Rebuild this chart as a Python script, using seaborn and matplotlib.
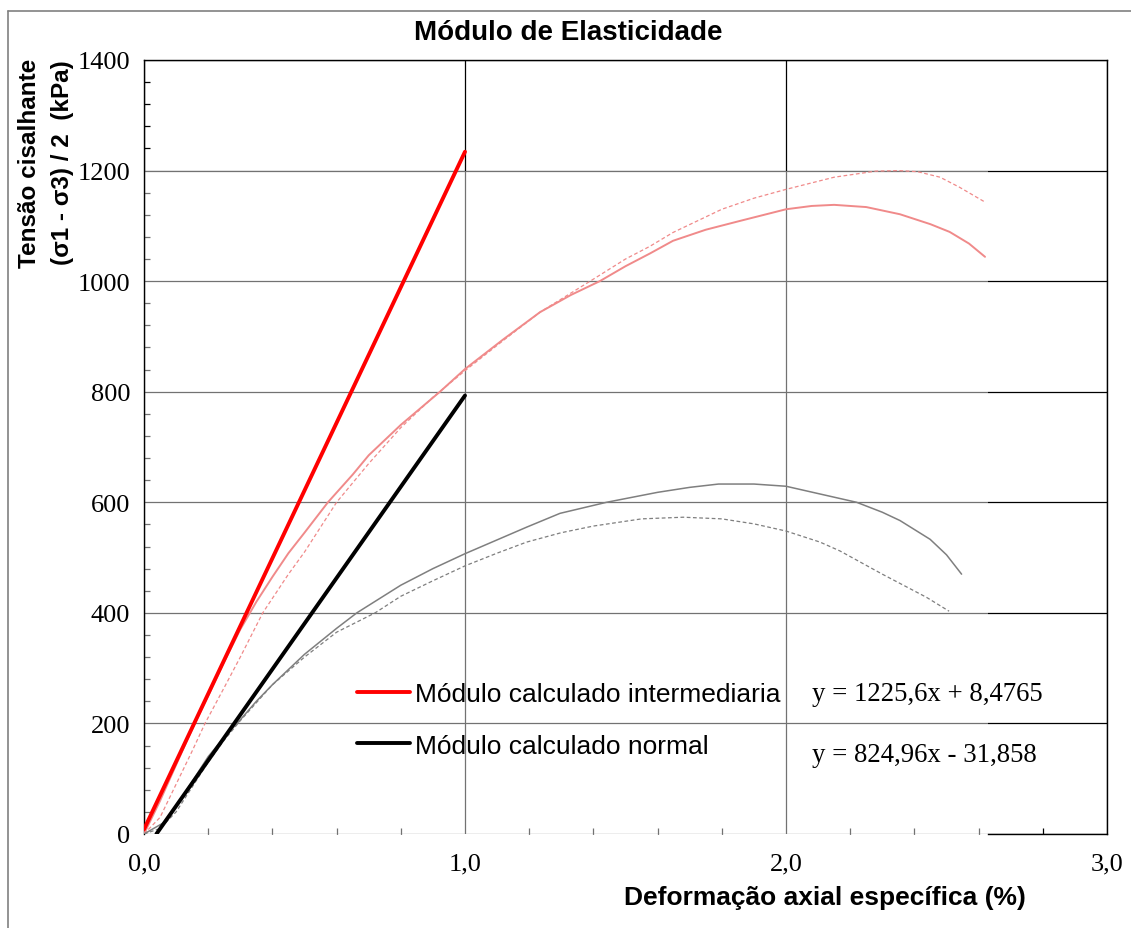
import matplotlib
matplotlib.use("Agg")
import matplotlib.pyplot as plt
from matplotlib.lines import Line2D
from matplotlib.patches import Rectangle
from matplotlib.ticker import MultipleLocator, FixedLocator, FuncFormatter
import seaborn as sns
import pandas as pd

# ---------------- data ----------------
red_solid_x = [0.0, 0.05, 0.1, 0.15, 0.2, 0.25, 0.3, 0.35, 0.4, 0.45, 0.5, 0.573, 0.65, 0.7, 0.8, 0.922, 1.0,
               1.12, 1.234, 1.33, 1.42, 1.5, 1.576, 1.648, 1.75, 1.857, 2.0, 2.08, 2.15, 2.25, 2.355, 2.45, 2.51, 2.57, 2.62]
red_solid_y = [0, 60, 125, 190, 250, 312, 370, 420, 465, 508, 545, 600, 650, 685, 740, 800, 841,
               895, 944, 975, 1000, 1027, 1050, 1073, 1093, 1109, 1130, 1136, 1138, 1134, 1121, 1103, 1089, 1068, 1044]

red_dash_x = [0.0, 0.05, 0.1, 0.15, 0.19, 0.25, 0.3, 0.37, 0.45, 0.5, 0.6, 0.7, 0.8, 0.9, 1.0,
              1.12, 1.234, 1.39, 1.5, 1.576, 1.648, 1.8, 1.9, 2.0, 2.15, 2.28, 2.35, 2.41, 2.48, 2.54, 2.62]
red_dash_y = [0, 30, 90, 150, 200, 265, 320, 400, 470, 510, 600, 670, 735, 790, 838,
              893, 944, 1000, 1040, 1063, 1088, 1130, 1150, 1166, 1188, 1199, 1200, 1198, 1188, 1170, 1143]

gray_solid_x = [0.0, 0.03, 0.06, 0.1, 0.15, 0.2, 0.25, 0.29, 0.35, 0.4, 0.5, 0.6, 0.663, 0.8, 0.9, 1.0,
                1.1, 1.192, 1.296, 1.441, 1.6, 1.7, 1.79, 1.9, 2.0, 2.106, 2.22, 2.3, 2.355, 2.449, 2.5, 2.547]
gray_solid_y = [0, 10, 20, 50, 95, 140, 175, 200, 240, 270, 325, 372, 400, 450, 480, 507,
                532, 555, 580, 600, 618, 627, 633, 633, 629, 615, 600, 582, 567, 533, 505, 470]

gray_dash_x = [0.0, 0.05, 0.1, 0.15, 0.2, 0.25, 0.3, 0.4, 0.5, 0.6, 0.72, 0.8, 0.9, 1.0,
               1.1, 1.192, 1.3, 1.4, 1.55, 1.68, 1.8, 1.9, 2.0, 2.106, 2.168, 2.3, 2.438, 2.508]
gray_dash_y = [0, 10, 40, 85, 130, 170, 205, 270, 320, 365, 400, 430, 458, 485,
               508, 528, 545, 557, 570, 573, 570, 561, 548, 528, 512, 470, 428, 403]

mod_int_x = [0.0, 1.0]
mod_int_y = [8.48, 1234.08]
mod_norm_x = [0.0386, 1.0]
mod_norm_y = [0.0, 793.1]

legend_labels = ["Módulo calculado intermediaria", "Módulo calculado normal"]
equations = ["y = 1225,6x + 8,4765", "y = 824,96x - 31,858"]
x_ticks = [0.0, 1.0, 2.0, 3.0]
y_ticks = [0, 200, 400, 600, 800, 1000, 1200, 1400]

title = "Módulo de Elasticidade"
xlabel = "Deformação axial específica (%)"
ylabel1 = "Tensão cisalhante"
ylabel2 = "(σ1 - σ3) / 2  (kPa)"

# ---------------- figure ----------------
sns.set_theme(style="white")
plt.rcParams["font.family"] = ["Liberation Sans", "DejaVu Sans"]
plt.rcParams["axes.axisbelow"] = True
plt.rcParams["text.color"] = "black"
plt.rcParams["axes.labelcolor"] = "black"
plt.rcParams["xtick.color"] = "black"
plt.rcParams["ytick.color"] = "black"
plt.rcParams["legend.labelcolor"] = "black"

W, H = 1131, 929
fig = plt.figure(figsize=(W / 100, H / 100), dpi=100)
fig.patch.set_facecolor("white")
ax = fig.add_axes([144 / W, 1 - 835 / H, (1107 - 144) / W, (835 - 61) / H])
ax.set_facecolor("white")

pink = "#f08a8a"
gray = "#7f7f7f"

def df(x, y):
    return pd.DataFrame({"x": x, "y": y})

sns.lineplot(data=df(red_solid_x, red_solid_y), x="x", y="y", ax=ax, color=pink,
             lw=1.4, sort=False, estimator=None, zorder=3)
sns.lineplot(data=df(red_dash_x, red_dash_y), x="x", y="y", ax=ax, color=pink,
             lw=0.9, sort=False, estimator=None, zorder=3)
ax.lines[-1].set_dashes([3, 2])
sns.lineplot(data=df(gray_solid_x, gray_solid_y), x="x", y="y", ax=ax, color=gray,
             lw=1.1, sort=False, estimator=None, zorder=3)
sns.lineplot(data=df(gray_dash_x, gray_dash_y), x="x", y="y", ax=ax, color=gray,
             lw=0.9, sort=False, estimator=None, zorder=3)
ax.lines[-1].set_dashes([3, 2])

sns.lineplot(data=df(mod_int_x, mod_int_y), x="x", y="y", ax=ax, color="#ff0000",
             lw=2.8, sort=False, estimator=None, zorder=4)
h_int = ax.lines[-1]
sns.lineplot(data=df(mod_norm_x, mod_norm_y), x="x", y="y", ax=ax, color="black",
             lw=2.8, sort=False, estimator=None, zorder=4)
h_norm = ax.lines[-1]

# white veil over the data image area (grid looks gray there)
ax.add_patch(Rectangle((0, 0), 2.63, 1200, facecolor="white", alpha=0.45,
                       edgecolor="none", zorder=1))

ax.set_xlim(0, 3.0)
ax.set_ylim(0, 1400)
ax.xaxis.set_major_locator(FixedLocator(x_ticks))
ax.yaxis.set_major_locator(FixedLocator(y_ticks))
ax.xaxis.set_minor_locator(MultipleLocator(0.2))
ax.yaxis.set_minor_locator(MultipleLocator(40))
ax.xaxis.set_major_formatter(FuncFormatter(lambda v, p: f"{v:.1f}".replace(".", ",")))
ax.yaxis.set_major_formatter(FuncFormatter(lambda v, p: f"{int(v)}"))

ax.grid(True, which="major", color="black", lw=0.9)
ax.tick_params(which="major", direction="out", length=5, width=0.9, color="black",
               labelsize=19, pad=5, labelcolor="black")
ax.tick_params(which="minor", direction="in", length=4, width=0.9, color="black",
               bottom=True, left=True)
for lab in ax.get_xticklabels() + ax.get_yticklabels():
    lab.set_fontfamily(["Liberation Serif", "DejaVu Serif"])
    lab.set_color("black")
ax.tick_params(axis="x", pad=8)

for s in ["top", "right", "left", "bottom"]:
    ax.spines[s].set_color("black")
    ax.spines[s].set_linewidth(1.0)
    ax.spines[s].set_visible(True)
ax.spines["bottom"].set_bounds(2.63, 3.0)

ax.set_xlabel("")
ax.set_ylabel("")

# legend
ax.legend([h_int, h_norm], legend_labels, loc="upper left",
          bbox_to_anchor=((357 - 144) / 963, (835 - 683) / 774),
          frameon=False, fontsize=19, handlelength=2.0, handletextpad=0.2,
          labelspacing=1.05, borderpad=0, borderaxespad=0, labelcolor="black")

# equations
ax.text(2.081, 255, equations[0], fontsize=19.3, va="center", ha="left",
        color="black", family=["Liberation Serif", "DejaVu Serif"])
ax.text(2.081, 143, equations[1], fontsize=19.3, va="center", ha="left",
        color="black", family=["Liberation Serif", "DejaVu Serif"])

# titles
fig.text(568 / W, 1 - 33 / H, title, fontsize=20, fontweight="bold",
         ha="center", va="center", color="black")
fig.text(825 / W, 1 - 898 / H, xlabel, fontsize=19, fontweight="bold",
         ha="center", va="center", color="black")
fig.text(30 / W, 1 - 163 / H, ylabel1, fontsize=17.5, fontweight="bold",
         ha="center", va="center", rotation=90, color="black")
fig.text(62 / W, 1 - 163 / H, ylabel2, fontsize=17.5, fontweight="bold",
         ha="center", va="center", rotation=90, color="black")

# outer frame (left and top edges)
fig.add_artist(Line2D([8 / W, 8 / W], [0, 1 - 12 / H], transform=fig.transFigure,
                      color="#808080", lw=1.2))
fig.add_artist(Line2D([8 / W, 1], [1 - 12 / H, 1 - 12 / H], transform=fig.transFigure,
                      color="#808080", lw=1.2))

fig.savefig("out.png", dpi=100, facecolor="white")
